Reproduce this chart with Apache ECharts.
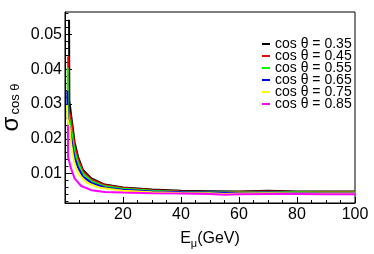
<!DOCTYPE html>
<html>
<head>
<meta charset="utf-8">
<script src="https://cdn.jsdelivr.net/npm/echarts@6/dist/echarts.min.js"></script>
<style>html,body{margin:0;padding:0;background:#fff;}#c{width:374px;height:254px;}</style>
</head>
<body>
<div id="c"></div>
<script>
var legendNames = ['cos \u03b8 = 0.35','cos \u03b8 = 0.45','cos \u03b8 = 0.55','cos \u03b8 = 0.65','cos \u03b8 = 0.75','cos \u03b8 = 0.85'];
var colors = ['#000000','#ff0000','#00ff00','#0000ff','#ffff00','#ff00ff'];

var E_035 = [1.4, 1.5, 2.15, 2.7, 3.3, 4.5, 6.2, 9.1, 13.7, 20, 30, 40, 50, 60, 70, 80, 90, 100];
var S_035 = [0.0543, 0.031, 0.0265, 0.023, 0.019, 0.0148, 0.011, 0.0086, 0.0068, 0.006, 0.0054, 0.0050, 0.0049, 0.0048, 0.0050, 0.0048, 0.0048, 0.0048];

var E_045 = [1.1, 1.2, 2.15, 2.7, 3.3, 4.5, 6.2, 9.1, 13.7, 20, 30, 40, 50, 60, 70, 80, 90, 100];
var S_045 = [0.0437, 0.029, 0.025, 0.0215, 0.0178, 0.0140, 0.0106, 0.0082, 0.0066, 0.0058, 0.0052, 0.0048, 0.0047, 0.0047, 0.0048, 0.0047, 0.0047, 0.0047];

var E_055 = [0.9, 1.0, 2.15, 2.7, 3.3, 4.5, 6.2, 9.1, 13.7, 20, 30, 40, 50, 60, 70, 80, 90, 100];
var S_055 = [0.0405, 0.028, 0.0225, 0.0195, 0.0163, 0.013, 0.0099, 0.0078, 0.0063, 0.0056, 0.0050, 0.0047, 0.0046, 0.0045, 0.0046, 0.0046, 0.0045, 0.0045];

var E_065 = [0.8, 0.9, 2.15, 2.7, 3.3, 4.5, 6.2, 9.1, 13.7, 20, 30, 40, 50, 60, 70, 80, 90, 100];
var S_065 = [0.0338, 0.026, 0.0202, 0.0172, 0.0146, 0.0117, 0.0091, 0.0073, 0.006, 0.0053, 0.0048, 0.0046, 0.0045, 0.0044, 0.0045, 0.0044, 0.0044, 0.0044];

var E_075 = [0.7, 0.8, 1.6, 2.15, 3.1, 4.5, 7.4, 11.4, 20, 30, 40, 50, 55, 60, 70, 80, 90, 100];
var S_075 = [0.0297, 0.026, 0.023, 0.0182, 0.0134, 0.0100, 0.0074, 0.006, 0.005, 0.0046, 0.0044, 0.0043, 0.0041, 0.0042, 0.0043, 0.0042, 0.0042, 0.0042];

var E_085 = [1.0, 1.05, 1.9, 3.3, 5.6, 9.1, 13.7, 20, 30, 40, 50, 55, 60, 70, 80, 90, 100];
var S_085 = [0.024, 0.0148, 0.0119, 0.0086, 0.0064, 0.0052, 0.0047, 0.0045, 0.0043, 0.0042, 0.0041, 0.0039, 0.004, 0.0041, 0.0041, 0.004, 0.004];

var xTickLabels = [20, 40, 60, 80, 100];
var yTickLabels = [0.01, 0.02, 0.03, 0.04, 0.05];
var yMinorTicks = [0.002,0.004,0.006,0.008,0.012,0.014,0.016,0.018,0.022,0.024,0.026,0.028,0.032,0.034,0.036,0.038,0.042,0.044,0.046,0.048,0.052,0.054,0.056];

var Es = [E_035, E_045, E_055, E_065, E_075, E_085];
var Ss = [S_035, S_045, S_055, S_065, S_075, S_085];

function pairs(e, s) { return e.map(function (x, i) { return [x, s[i]]; }); }

var FONT = 'Liberation Sans';
var chart = echarts.init(document.getElementById('c'));
var series = legendNames.map(function (n, i) {
  return {
    name: n, type: 'line', data: pairs(Es[i], Ss[i]),
    showSymbol: false, symbol: 'none', animation: false,
    lineStyle: { color: colors[i], width: 2 }, itemStyle: { color: colors[i] },
    z: 2 + i
  };
});

chart.setOption({
  animation: false,
  color: colors,
  grid: { left: 65, top: 12, right: 19, bottom: 51, show: true, borderColor: '#000', borderWidth: 1 },
  legend: {
    orient: 'vertical', left: 257, top: 32, itemGap: -2, itemWidth: 8, itemHeight: 2,
    icon: 'rect', selectedMode: false,
    textStyle: { fontFamily: FONT, fontSize: 14, color: '#000' },
    data: legendNames
  },
  xAxis: {
    type: 'value', min: 0, max: 100, interval: 20,
    axisLine: { show: true, lineStyle: { color: '#000', width: 1 } },
    axisTick: { show: true, inside: true, length: 6, lineStyle: { color: '#000' } },
    minorTick: { show: true, splitNumber: 4, length: 3, lineStyle: { color: '#000' } },
    splitLine: { show: false },
    axisLabel: { fontFamily: FONT, fontSize: 16, color: '#000', margin: 4,
      formatter: function (v) { return xTickLabels.indexOf(v) >= 0 ? String(v) : ''; } },
    name: '{a|E}{b|\u03bc}{a|(GeV)}', nameLocation: 'middle', nameGap: 28,
    nameTextStyle: { rich: {
      a: { fontFamily: FONT, fontSize: 16, color: '#000', lineHeight: 18, verticalAlign: 'top' },
      b: { fontFamily: FONT, fontSize: 11, color: '#000', lineHeight: 18, verticalAlign: 'bottom', padding: [6, 0, 0, 0] }
    } }
  },
  yAxis: [{
    type: 'value', min: 0.0015, max: 0.0565,
    axisLine: { show: true, lineStyle: { color: '#000', width: 1 } },
    axisTick: { show: true, inside: true, length: 7, customValues: yTickLabels, lineStyle: { color: '#000' } },
    splitLine: { show: false },
    axisLabel: { fontFamily: FONT, fontSize: 16, color: '#000', margin: 3, customValues: yTickLabels,
      formatter: function (v) { return v.toFixed(2); } }
  }, {
    type: 'value', min: 0.0015, max: 0.0565, position: 'left', offset: 0,
    axisLine: { show: false },
    axisTick: { show: true, inside: true, length: 3.5, customValues: yMinorTicks, lineStyle: { color: '#000' } },
    splitLine: { show: false },
    axisLabel: { show: false }
  }],
  graphic: [
    { type: 'text', x: 11, y: 124, rotation: Math.PI / 2,
      style: { text: '\u03c3', fontFamily: FONT, fontSize: 24, fill: '#000', align: 'center', verticalAlign: 'middle' } },
    { type: 'text', x: 15, y: 99, rotation: Math.PI / 2,
      style: { text: 'cos \u03b8', fontFamily: FONT, fontSize: 13, fill: '#000', align: 'center', verticalAlign: 'middle' } }
  ],
  series: series
});
</script>
</body>
</html>
